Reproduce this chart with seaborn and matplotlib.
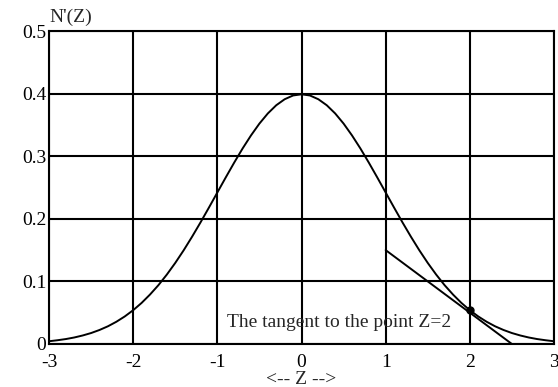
import numpy as np
import pandas as pd
import matplotlib
matplotlib.use("Agg")
import matplotlib.pyplot as plt
import seaborn as sns

# values (density curve N'(Z)), one per 0.1 of Z
z_vals = [-3.0, -2.9, -2.8, -2.7, -2.6, -2.5, -2.4, -2.3, -2.2, -2.1,
          -2.0, -1.9, -1.8, -1.7, -1.6, -1.5, -1.4, -1.3, -1.2, -1.1,
          -1.0, -0.9, -0.8, -0.7, -0.6, -0.5, -0.4, -0.3, -0.2, -0.1,
          0.0, 0.1, 0.2, 0.3, 0.4, 0.5, 0.6, 0.7, 0.8, 0.9,
          1.0, 1.1, 1.2, 1.3, 1.4, 1.5, 1.6, 1.7, 1.8, 1.9,
          2.0, 2.1, 2.2, 2.3, 2.4, 2.5, 2.6, 2.7, 2.8, 2.9, 3.0]
n_vals = [0.0044, 0.0060, 0.0079, 0.0104, 0.0136, 0.0175, 0.0224, 0.0283, 0.0355, 0.0440,
          0.0540, 0.0656, 0.0790, 0.0940, 0.1109, 0.1295, 0.1497, 0.1714, 0.1942, 0.2179,
          0.2420, 0.2661, 0.2897, 0.3123, 0.3332, 0.3521, 0.3683, 0.3814, 0.3910, 0.3970,
          0.3989, 0.3970, 0.3910, 0.3814, 0.3683, 0.3521, 0.3332, 0.3123, 0.2897, 0.2661,
          0.2420, 0.2179, 0.1942, 0.1714, 0.1497, 0.1295, 0.1109, 0.0940, 0.0790, 0.0656,
          0.0540, 0.0440, 0.0355, 0.0283, 0.0224, 0.0175, 0.0136, 0.0104, 0.0079, 0.0060, 0.0044]

# tangent at Z=2
tan_z = [1.0, 2.5]
tan_n = [0.15, 0.0]
point_z = [2.0]
point_n = [0.054]

x_ticks = [-3, -2, -1, 0, 1, 2, 3]
x_tick_labels = ["-3", "-2", "-1", "0", "1", "2", "3"]
y_ticks = [0, 0.1, 0.2, 0.3, 0.4, 0.5]
y_tick_labels = ["0", "0.1", "0.2", "0.3", "0.4", "0.5"]

sns.set_style("white")
plt.rcParams['font.family'] = ['Liberation Serif', 'DejaVu Serif']

fig = plt.figure(figsize=(5.58, 3.87), dpi=100)
ax = fig.add_axes([49 / 558, 1 - 344 / 387, 505 / 558, 313 / 387])

df = pd.DataFrame({"z": z_vals, "n": n_vals})
sns.lineplot(data=df, x="z", y="n", ax=ax, color="black", linewidth=1.4)
sns.lineplot(x=tan_z, y=tan_n, ax=ax, color="black", linewidth=1.4)
ax.plot(point_z, point_n, "o", color="black", markersize=5,
        markerfacecolor="black")

ax.set_xlim(-3, 3)
ax.set_ylim(0, 0.5)
ax.set_xticks(x_ticks)
ax.set_xticklabels(x_tick_labels)
ax.set_yticks(y_ticks)
ax.set_yticklabels(y_tick_labels)
ax.tick_params(length=0, labelsize=14, colors="black")
ax.tick_params(axis="x", pad=7)
ax.tick_params(axis="y", pad=2)
ax.grid(True, color="black", linewidth=1.5)
for s in ax.spines.values():
    s.set_color("black")
    s.set_linewidth(1.5)

ax.set_xlabel("")
ax.set_ylabel("")
fig.text(49 / 558, 1 - 17 / 387, "N'(Z)", fontsize=14, ha="left", va="center")
fig.text(301 / 558, 1 - 380 / 387, "<-- Z -->", fontsize=14, ha="center", va="center")
ax.text(-0.88, 0.034, "The tangent to the point Z=2", fontsize=14,
        ha="left", va="center")

fig.savefig("out.png", dpi=100)
